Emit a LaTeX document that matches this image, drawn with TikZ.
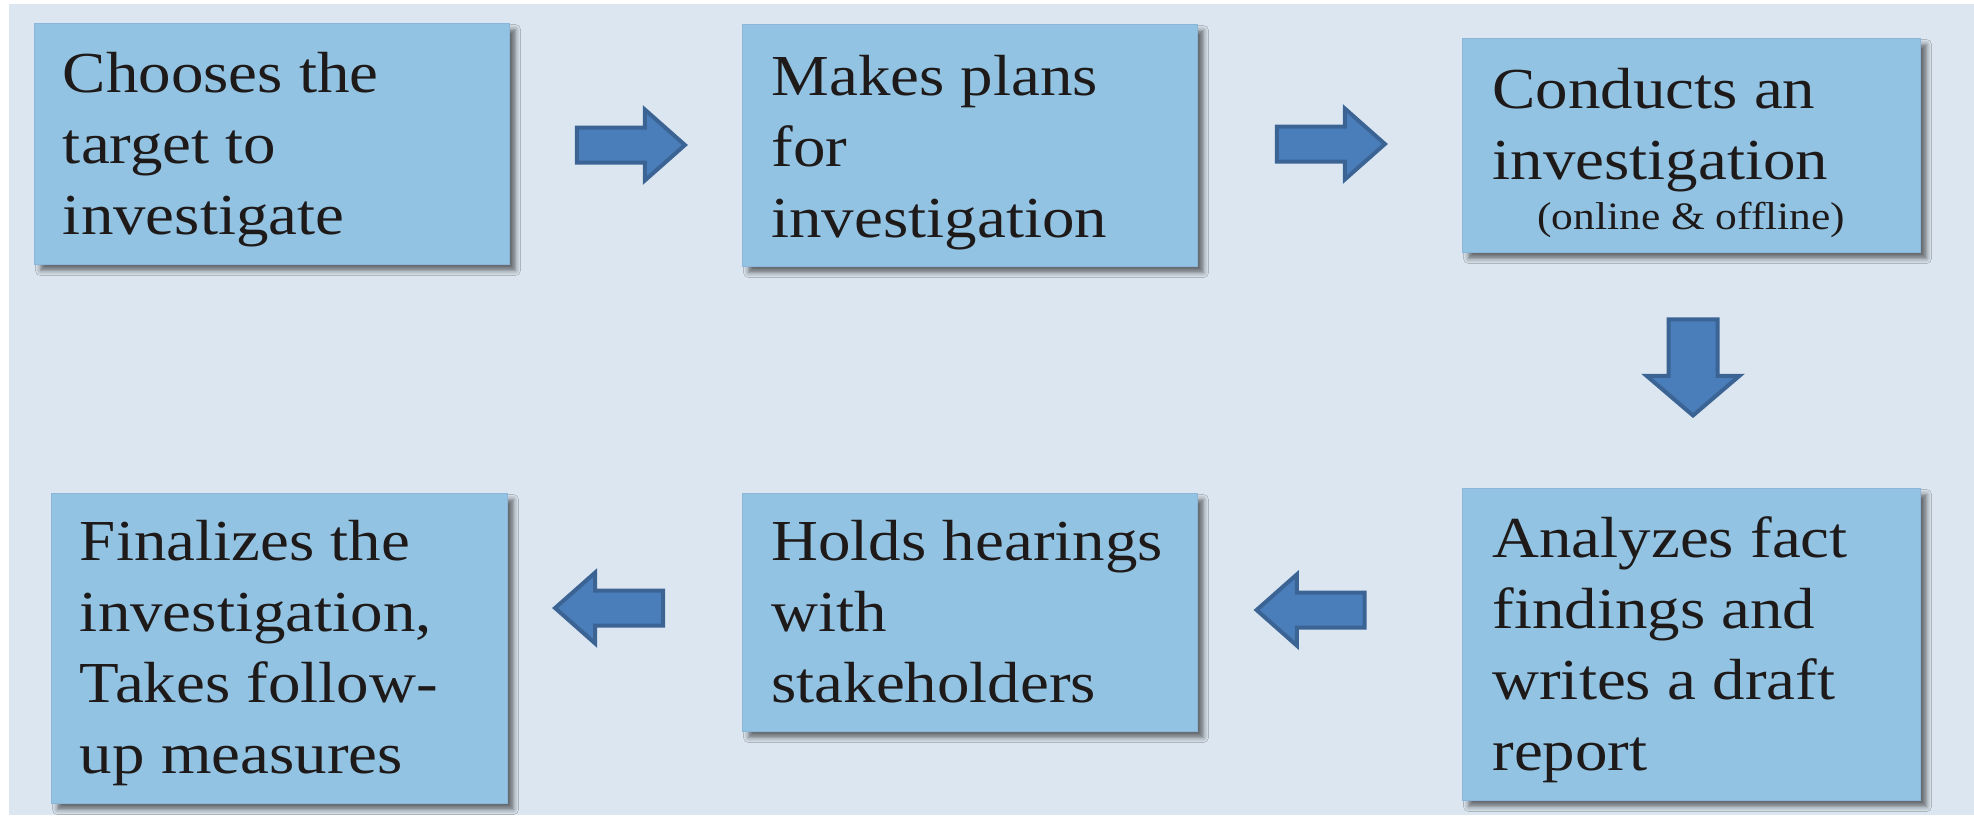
\documentclass[tikz,border=0pt]{standalone}
\usepackage{fontspec}
\setmainfont{Liberation Serif}
\usetikzlibrary{shapes.arrows,shadows.blur}

\definecolor{bgcol}{HTML}{DCE6F0}
\definecolor{boxfill}{HTML}{93C3E2}
\definecolor{boxedge}{HTML}{8BB6D9}
\definecolor{arrowfill}{HTML}{4A7EBB}
\definecolor{arrowedge}{HTML}{3B6494}
\definecolor{textcol}{HTML}{1E1A1A}

\begin{document}
\begin{tikzpicture}[x=1pt,y=-1pt,
  stepbox/.style={rectangle, fill=boxfill, draw=boxedge, line width=1pt,
    inner sep=0pt, anchor=north west,
    blur shadow={shadow xshift=6pt, shadow yshift=-6pt,
      shadow blur radius=5pt, shadow opacity=55}},
  steptext/.style={anchor=north west, inner sep=0pt, align=left,
    text=textcol, font=\fontsize{29}{35.5}\selectfont,
    xscale=2.24, yscale=2, transform shape},
  flow/.style={single arrow, fill=arrowfill, draw=arrowedge, line width=4pt,
    inner sep=0pt, single arrow head indent=0pt},
  flowh/.style={flow, minimum height=108pt, inner ysep=15.5pt,
    single arrow head extend=18pt, single arrow tip angle=83}
]
\useasboundingbox (0,0) rectangle (1974,823);
\fill[white] (0,0) rectangle (1974,823);
\fill[bgcol] (9,4) rectangle (1974,815);

% process steps
\node[stepbox, minimum width=475pt, minimum height=241pt] (b1) at (34,23) {};
\node[stepbox, minimum width=455pt, minimum height=242pt] (b2) at (742,24) {};
\node[stepbox, minimum width=458pt, minimum height=214pt] (b3) at (1462,38) {};
\node[stepbox, minimum width=458pt, minimum height=312pt] (b4) at (1462,488) {};
\node[stepbox, minimum width=455pt, minimum height=238pt] (b5) at (742,493) {};
\node[stepbox, minimum width=456pt, minimum height=310pt] (b6) at (51,493) {};

% step labels
\node[steptext] (t1) at (62.5,42.3) {\strut Chooses the\\target to\\investigate};
\node[steptext] (t2) at (771,45.3) {\strut Makes plans\\for\\investigation};
\node[steptext] (t3) at (1492,58.3) {\strut Conducts an\\investigation\\[-10.5pt]%
  \hspace*{20pt}{\fontsize{19.4}{23}\selectfont(online \& offline)}};
\node[steptext] (t4) at (1492,507.3) {\strut Analyzes fact\\findings and\\writes a draft\\report};
\node[steptext] (t5) at (771,510.3) {\strut Holds hearings\\with\\stakeholders};
\node[steptext] (t6) at (79.5,510.3) {\strut Finalizes the\\investigation,\\Takes follow-\\up measures};

% block arrows between steps
\node[flowh] (a1) at (621,145) {};
\node[flowh] (a2) at (1321,144) {};
\node[flow, rotate=-90, minimum height=96pt, inner ysep=22.5pt,
  single arrow head extend=22pt, single arrow tip angle=99] (a3) at (1693,357) {};
\node[flowh, rotate=180] (a4) at (1320.5,610) {};
\node[flowh, rotate=180] (a5) at (619,608) {};
\end{tikzpicture}
\end{document}
